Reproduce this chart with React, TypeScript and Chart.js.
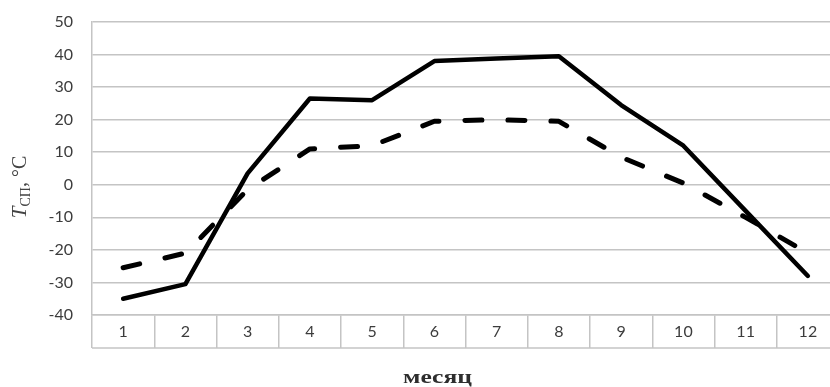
import React, { useEffect, useRef } from "react";
import { Chart, registerables } from "chart.js";

Chart.register(...registerables);

const months = ["1", "2", "3", "4", "5", "6", "7", "8", "9", "10", "11", "12"];
const solidSeries = [-35, -30.5, 3.5, 26.5, 26, 38, 38.8, 39.5, 24.5, 12, -8, -28];
const dashedSeries = [-25.5, -21, -1.5, 11, 12, 19.5, 20, 19.5, 8.5, 0.5, -10, -21];
const yMin = -40;
const yMax = 50;
const yStep = 10;
const xTitle = "месяц";

const GRID = "#c4c4c4";
const TICK = "#3c3c3c";
const AREA = { left: 92, top: 22, right: 839, bottom: 315 };

const tablePlugin = {
  id: "tableDecor",
  afterDraw(chart: any) {
    const ctx = chart.ctx;
    const area = chart.chartArea;
    ctx.save();
    ctx.strokeStyle = GRID;
    ctx.lineWidth = 1.5;
    ctx.beginPath();
    ctx.moveTo(area.left, area.bottom + 33);
    ctx.lineTo(area.right, area.bottom + 33);
    ctx.stroke();

    // x title (stretched horizontally like the reference)
    ctx.fillStyle = "#2e2e2e";
    ctx.font = "bold 18px 'Liberation Serif', serif";
    ctx.textBaseline = "alphabetic";
    ctx.textAlign = "left";
    const w = ctx.measureText(xTitle).width;
    const target = 69;
    ctx.save();
    ctx.translate(403, 383);
    ctx.scale(target / w, 1);
    ctx.fillText(xTitle, 0, 0);
    ctx.restore();

    // y title: T (italic) + subscript СП + ", °C"
    ctx.translate(26, 187);
    ctx.rotate(-Math.PI / 2);
    ctx.fillStyle = "#444";
    ctx.textAlign = "left";
    const fT = "italic 21px 'Liberation Serif', serif";
    const fS = "14px 'Liberation Serif', serif";
    const fR = "20px 'Liberation Serif', serif";
    ctx.font = fT;
    const wT = ctx.measureText("T").width;
    ctx.font = fS;
    const wS = ctx.measureText("СП").width;
    ctx.font = fR;
    const wR = ctx.measureText(", °C").width;
    let cx = -(wT + wS + wR) / 2;
    ctx.font = fT;
    ctx.fillText("T", cx, 0);
    cx += wT;
    ctx.font = fS;
    ctx.fillText("СП", cx, 4);
    cx += wS;
    ctx.font = fR;
    ctx.fillText(", °C", cx, 0);
    ctx.restore();
  },
};

export default function App() {
  const ref = useRef<HTMLCanvasElement | null>(null);
  useEffect(() => {
    if (!ref.current) return;
    const chart = new Chart(ref.current, {
      type: "line",
      data: {
        labels: months,
        datasets: [
          {
            data: dashedSeries,
            borderColor: "#000",
            borderWidth: 5,
            borderDash: [17, 26],
            borderCapStyle: "round",
            borderJoinStyle: "round",
            pointRadius: 0,
            tension: 0,
            fill: false,
          },
          {
            data: solidSeries,
            borderColor: "#000",
            borderWidth: 4.5,
            borderCapStyle: "round",
            borderJoinStyle: "round",
            pointRadius: 0,
            tension: 0,
            fill: false,
          },
        ],
      },
      options: {
        responsive: false,
        animation: false,
        devicePixelRatio: 1,
        layout: { padding: { top: AREA.top, right: 850 - AREA.right, left: 0, bottom: 0 } },
        plugins: {
          legend: { display: false },
          tooltip: { enabled: false },
        },
        scales: {
          x: {
            type: "category",
            offset: true,
            afterFit: (s: any) => {
              s.height = 387 - AREA.bottom;
              s.paddingLeft = 0;
              s.paddingRight = 0;
            },
            grid: {
              offset: true,
              drawOnChartArea: false,
              drawTicks: true,
              tickLength: 33,
              color: GRID,
              lineWidth: 1.5,
            },
            border: { display: true, color: GRID, width: 1.5 },
            ticks: {
              color: TICK,
              font: { family: "Lato", size: 16 },
              padding: -26,
              maxRotation: 0,
              autoSkip: false,
            },
          },
          y: {
            min: yMin,
            max: yMax,
            afterFit: (s: any) => {
              s.width = AREA.left;
              s.paddingTop = 0;
              s.paddingBottom = 0;
            },
            grid: { color: GRID, lineWidth: 1.5, drawTicks: false },
            border: { display: true, color: GRID, width: 1.5 },
            ticks: {
              stepSize: yStep,
              color: TICK,
              font: { family: "Lato", size: 16 },
              padding: 19,
            },
          },
        },
      },
      plugins: [tablePlugin],
    });
    return () => chart.destroy();
  }, []);
  return (
    <div
      style={{
        position: "absolute",
        left: 0,
        top: 0,
        width: 830,
        height: 387,
        overflow: "hidden",
        background: "#fff",
      }}
    >
      <canvas ref={ref} width={850} height={387} style={{ width: 850, height: 387, display: "block" }} />
    </div>
  );
}
